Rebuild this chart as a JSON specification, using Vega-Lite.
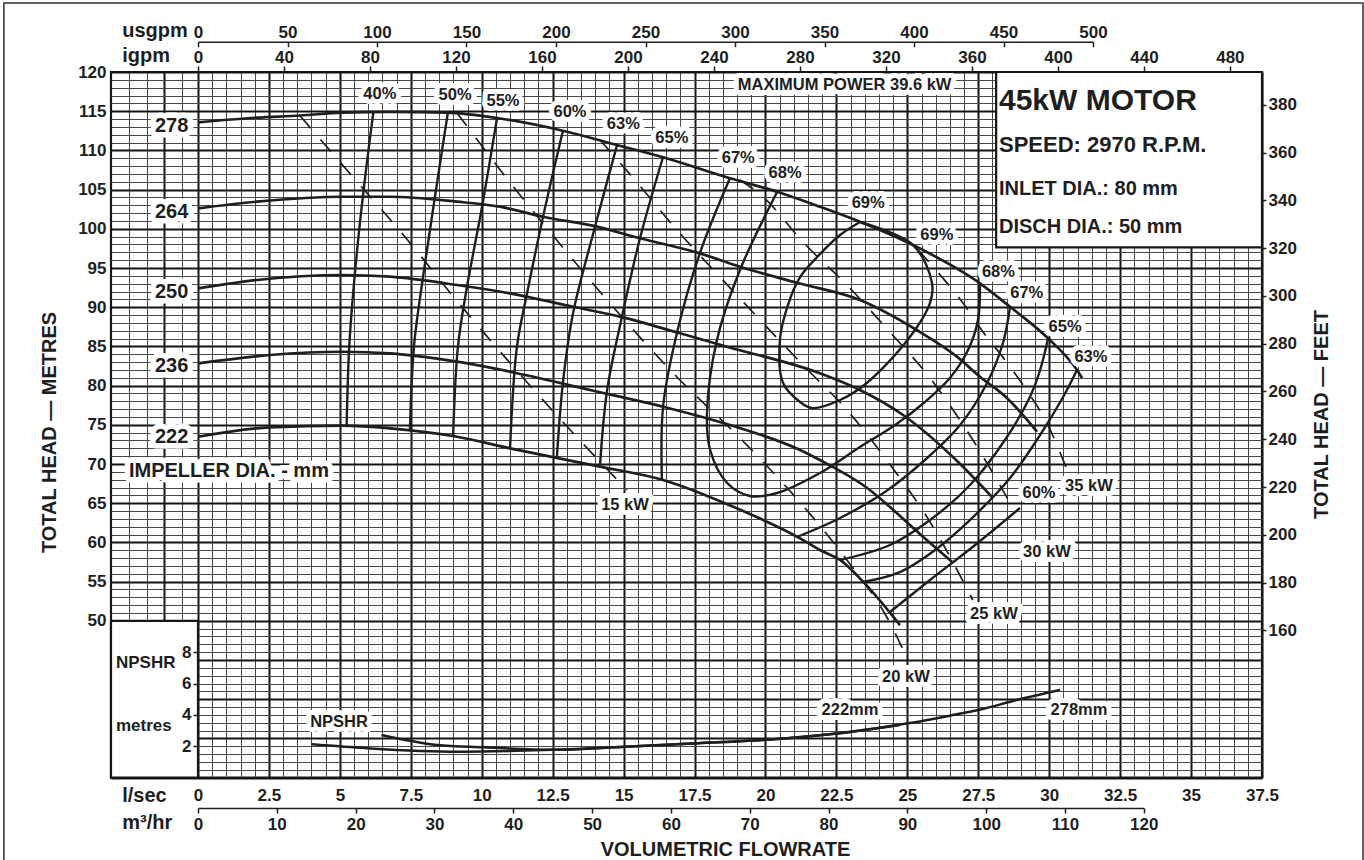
{
"$schema": "https://vega.github.io/schema/vega-lite/v6.json",
"width": 1151,
"height": 705.6,
"autosize": {"type": "none"},
"padding": {"left": 111, "top": 72, "right": 102, "bottom": 82.4},
"background": "white",
"config": {
 "view": {"stroke": "#161616", "strokeWidth": 2.2},
 "font": "Liberation Sans",
 "axis": {"labelFont": "Liberation Sans", "labelFontWeight": "bold", "labelColor": "#1e1e1e", "labelFontSize": 17, "titleFont": "Liberation Sans", "titleFontWeight": "bold", "titleColor": "#1e1e1e", "titleFontSize": 20, "tickColor": "#1e1e1e", "domainColor": "#1e1e1e", "labelFlush": false, "labelOverlap": false, "labelBound": false},
 "text": {"font": "Liberation Sans", "fontWeight": "bold", "fill": "#1e1e1e"}
},
"datasets": {
 "frame": [{"q1": -6.84, "q2": 41.06, "h1": 19.1, "h2": 128.8}],
 "boxes": [{"q1": -3.066, "q2": 0, "h1": 30, "h2": 50}, {"q1": 28.13, "q2": 37.5, "h1": 97.64, "h2": 120}],
 "heads": [
  {"d":"278","q":0,"h":113.58},{"d":"278","q":2.08,"h":114.17},{"d":"278","q":3.6,"h":114.45},{"d":"278","q":5.08,"h":114.83},{"d":"278","q":6.77,"h":114.92},{"d":"278","q":8.78,"h":114.83},{"d":"278","q":10.54,"h":114.13},{"d":"278","q":12.86,"h":112.51},{"d":"278","q":14.77,"h":110.69},{"d":"278","q":16.39,"h":109.12},{"d":"278","q":18.75,"h":106.44},{"d":"278","q":20.41,"h":104.73},{"d":"278","q":21.92,"h":102.82},{"d":"278","q":23.33,"h":100.91},{"d":"278","q":25.2,"h":97.93},{"d":"278","q":27.56,"h":93.05},{"d":"278","q":28.62,"h":90.06},{"d":"278","q":29.96,"h":86.03},{"d":"278","q":30.98,"h":81.99},{"d":"278","q":31.16,"h":80.97},
  {"d":"264","q":0,"h":102.61},{"d":"264","q":2.08,"h":103.46},{"d":"264","q":5.08,"h":104.09},{"d":"264","q":6.77,"h":104.09},{"d":"264","q":9.13,"h":103.46},{"d":"264","q":10.64,"h":102.82},{"d":"264","q":12.16,"h":101.54},{"d":"264","q":14.06,"h":100.27},{"d":"264","q":15.58,"h":98.79},{"d":"264","q":17.69,"h":96.87},{"d":"264","q":19.1,"h":95.17},{"d":"264","q":21.1,"h":93.12},{"d":"264","q":23.33,"h":90.92},{"d":"264","q":25.33,"h":87.09},{"d":"264","q":26.75,"h":83.69},{"d":"264","q":27.56,"h":81.13},{"d":"264","q":28.51,"h":78.42},{"d":"264","q":29.57,"h":74.12},
  {"d":"250","q":0,"h":92.41},{"d":"250","q":2.08,"h":93.47},{"d":"250","q":5.08,"h":94.11},{"d":"250","q":6.77,"h":93.89},{"d":"250","q":9.13,"h":92.83},{"d":"250","q":11.0,"h":91.77},{"d":"250","q":13.22,"h":90.06},{"d":"250","q":14.87,"h":88.79},{"d":"250","q":16.99,"h":86.67},{"d":"250","q":18.64,"h":84.96},{"d":"250","q":21.92,"h":81.57},{"d":"250","q":23.33,"h":79.44},{"d":"250","q":24.85,"h":76.25},{"d":"250","q":26.79,"h":70.26},{"d":"250","q":28.02,"h":65.66},
  {"d":"236","q":0,"h":82.84},{"d":"236","q":2.54,"h":83.9},{"d":"236","q":5.08,"h":84.32},{"d":"236","q":6.77,"h":84.12},{"d":"236","q":9.13,"h":83.05},{"d":"236","q":11.0,"h":81.77},{"d":"236","q":13.82,"h":79.44},{"d":"236","q":16.39,"h":77.31},{"d":"236","q":18.75,"h":74.97},{"d":"236","q":21.22,"h":71.79},{"d":"236","q":21.92,"h":70.51},{"d":"236","q":23.44,"h":67.32},{"d":"236","q":25.55,"h":60.73},{"d":"236","q":26.57,"h":57.54},
  {"d":"222","q":0,"h":73.48},{"d":"222","q":2.54,"h":74.68},{"d":"222","q":5.08,"h":74.89},{"d":"222","q":6.77,"h":74.55},{"d":"222","q":9.13,"h":73.48},{"d":"222","q":11.0,"h":72.0},{"d":"222","q":14.17,"h":69.66},{"d":"222","q":16.39,"h":67.96},{"d":"222","q":18.86,"h":64.55},{"d":"222","q":21.22,"h":60.52},{"d":"222","q":21.92,"h":59.03},{"d":"222","q":22.63,"h":57.76},{"d":"222","q":23.44,"h":54.99},{"d":"222","q":24.74,"h":49.46}
 ],
 "eff": [
  {"id":"40","o":1,"q":6.18,"h":114.86},{"id":"40","o":2,"q":5.83,"h":104.73},{"id":"40","o":3,"q":5.53,"h":94.32},{"id":"40","o":4,"q":5.33,"h":84.96},{"id":"40","o":5,"q":5.24,"h":74.97},
  {"id":"50","o":1,"q":8.81,"h":114.9},{"id":"50","o":2,"q":8.35,"h":104.06},{"id":"50","o":3,"q":7.93,"h":93.85},{"id":"50","o":4,"q":7.61,"h":84.92},{"id":"50","o":5,"q":7.47,"h":74.34},
  {"id":"55","o":1,"q":10.54,"h":114.13},{"id":"55","o":2,"q":10.01,"h":102.78},{"id":"55","o":3,"q":9.48,"h":92.58},{"id":"55","o":4,"q":9.16,"h":84.92},{"id":"55","o":5,"q":8.99,"h":73.44},
  {"id":"60","o":1,"q":12.86,"h":112.47},{"id":"60","o":2,"q":12.16,"h":101.51},{"id":"60","o":3,"q":11.6,"h":91.81},{"id":"60","o":4,"q":11.24,"h":84.92},{"id":"60","o":5,"q":11.0,"h":72.17},
  {"id":"63","o":1,"q":14.77,"h":110.69},{"id":"63","o":2,"q":13.99,"h":100.23},{"id":"63","o":3,"q":13.22,"h":89.26},{"id":"63","o":4,"q":12.86,"h":80.33},{"id":"63","o":5,"q":12.65,"h":70.89},
  {"id":"65","o":1,"q":16.39,"h":109.16},{"id":"65","o":2,"q":15.58,"h":98.83},{"id":"65","o":3,"q":14.94,"h":88.75},{"id":"65","o":4,"q":14.42,"h":79.44},{"id":"65","o":5,"q":14.17,"h":69.87},
  {"id":"67","o":1,"q":18.75,"h":106.48},{"id":"67","o":2,"q":17.69,"h":96.91},{"id":"67","o":3,"q":16.88,"h":86.71},{"id":"67","o":4,"q":16.39,"h":77.27},{"id":"67","o":5,"q":16.35,"h":67.96},
  {"id":"68","o":1,"q":20.41,"h":104.69},{"id":"68","o":2,"q":19.1,"h":94.74},{"id":"68","o":3,"q":18.29,"h":85.82},{"id":"68","o":4,"q":17.94,"h":76.51},{"id":"68","o":5,"q":18.05,"h":71.79},{"id":"68","o":6,"q":18.65,"h":67.58},{"id":"68","o":7,"q":19.45,"h":65.92},{"id":"68","o":8,"q":20.41,"h":66.3},{"id":"68","o":9,"q":21.92,"h":68.85},{"id":"68","o":10,"q":23.33,"h":72.17},{"id":"68","o":11,"q":24.57,"h":74.97},{"id":"68","o":12,"q":25.62,"h":77.91},{"id":"68","o":13,"q":26.5,"h":80.97},{"id":"68","o":14,"q":27.14,"h":84.54},{"id":"68","o":15,"q":27.49,"h":88.37},{"id":"68","o":16,"q":27.56,"h":93.09},
  {"id":"69","o":1,"q":23.33,"h":100.87},{"id":"69","o":2,"q":25.2,"h":97.93},{"id":"69","o":3,"q":25.87,"h":93.09},{"id":"69","o":4,"q":25.8,"h":90.54},{"id":"69","o":5,"q":25.09,"h":86.2},{"id":"69","o":6,"q":23.57,"h":80.33},{"id":"69","o":7,"q":22.63,"h":78.16},{"id":"69","o":8,"q":21.64,"h":77.14},{"id":"69","o":9,"q":21.22,"h":77.91},{"id":"69","o":10,"q":20.62,"h":80.33},{"id":"69","o":11,"q":20.51,"h":85.82},{"id":"69","o":12,"q":20.79,"h":90.28},{"id":"69","o":13,"q":21.22,"h":93.85},{"id":"69","o":14,"q":21.82,"h":96.4},{"id":"69","o":15,"q":22.63,"h":99.21},{"id":"69","o":16,"q":23.33,"h":100.87},
  {"id":"67r","o":1,"q":28.62,"h":90.06},{"id":"67r","o":2,"q":28.37,"h":85.43},{"id":"67r","o":3,"q":27.81,"h":80.33},{"id":"67r","o":4,"q":26.86,"h":74.97},{"id":"67r","o":5,"q":25.62,"h":70.51},{"id":"67r","o":6,"q":24.21,"h":66.43},{"id":"67r","o":7,"q":22.63,"h":63.11},{"id":"67r","o":8,"q":21.11,"h":60.69},
  {"id":"65r","o":1,"q":29.96,"h":86.03},{"id":"65r","o":2,"q":29.68,"h":81.99},{"id":"65r","o":3,"q":29.32,"h":78.55},{"id":"65r","o":4,"q":28.44,"h":73.06},{"id":"65r","o":5,"q":27.21,"h":67.32},{"id":"65r","o":6,"q":25.8,"h":62.86},{"id":"65r","o":7,"q":24.39,"h":59.67},{"id":"65r","o":8,"q":22.63,"h":57.76},
  {"id":"63r","o":1,"q":30.98,"h":81.99},{"id":"63r","o":2,"q":30.49,"h":78.55},{"id":"63r","o":3,"q":29.68,"h":73.7},{"id":"63r","o":4,"q":28.62,"h":68.21},{"id":"63r","o":5,"q":27.39,"h":63.49},{"id":"63r","o":6,"q":25.98,"h":59.03},{"id":"63r","o":7,"q":24.74,"h":56.22},{"id":"63r","o":8,"q":23.44,"h":54.95},
  {"id":"60r","o":1,"q":24.39,"h":51.12},{"id":"60r","o":2,"q":25.8,"h":55.2},{"id":"60r","o":3,"q":27.39,"h":59.67},{"id":"60r","o":4,"q":28.97,"h":64.39}
 ],
 "power": [
  {"p":"15","q":3.6,"h":114.39},{"p":"15","q":5.46,"h":106.61},{"p":"15","q":7.3,"h":98.95},{"p":"15","q":9.16,"h":90.66},{"p":"15","q":11.0,"h":82.88},{"p":"15","q":12.86,"h":75.36},{"p":"15","q":15.12,"h":66.68},
  {"p":"20","q":9.13,"h":114.77},{"p":"20","q":10.93,"h":106.22},{"p":"20","q":12.41,"h":99.59},{"p":"20","q":14.63,"h":90.03},{"p":"20","q":16.88,"h":81.1},{"p":"20","q":19.17,"h":73.06},{"p":"20","q":21.39,"h":64.39},{"p":"20","q":22.87,"h":57.76},{"p":"20","q":24.39,"h":49.72},{"p":"20","q":25.02,"h":45.0},
  {"p":"25","q":14.17,"h":111.33},{"p":"25","q":15.4,"h":106.22},{"p":"25","q":16.88,"h":99.85},{"p":"25","q":18.4,"h":93.85},{"p":"25","q":19.88,"h":88.11},{"p":"25","q":21.39,"h":82.37},{"p":"25","q":22.87,"h":76.89},{"p":"25","q":24.32,"h":70.26},{"p":"25","q":25.8,"h":62.6},{"p":"25","q":27.31,"h":52.65},
  {"p":"30","q":19.1,"h":106.22},{"p":"30","q":19.92,"h":104.06},{"p":"30","q":21.32,"h":98.32},{"p":"30","q":22.87,"h":92.83},{"p":"30","q":24.32,"h":87.09},{"p":"30","q":25.8,"h":80.97},{"p":"30","q":27.31,"h":73.06},{"p":"30","q":28.8,"h":63.88},
  {"p":"35","q":25.38,"h":97.3},{"p":"35","q":26.22,"h":93.85},{"p":"35","q":26.96,"h":90.54},{"p":"35","q":27.67,"h":86.84},{"p":"35","q":28.44,"h":83.27},{"p":"35","q":29.15,"h":79.69},{"p":"35","q":29.92,"h":75.23},{"p":"35","q":30.66,"h":68.98}
 ],
 "npshr": [
  {"d":"222mm","q":4.01,"n":2.12},{"d":"222mm","q":5.95,"n":1.87},{"d":"222mm","q":7.82,"n":1.7},{"d":"222mm","q":9.11,"n":1.65},{"d":"222mm","q":10.5,"n":1.68},{"d":"222mm","q":12.48,"n":1.77},{"d":"222mm","q":15.05,"n":1.97},{"d":"222mm","q":17.61,"n":2.19},{"d":"222mm","q":19.9,"n":2.4},{"d":"222mm","q":22.6,"n":2.83},{"d":"222mm","q":24.74,"n":3.36},
  {"d":"278mm","q":6.47,"n":2.72},{"d":"278mm","q":8.44,"n":2.08},{"d":"278mm","q":10.06,"n":1.93},{"d":"278mm","q":12.48,"n":1.77},{"d":"278mm","q":15.05,"n":1.97},{"d":"278mm","q":17.61,"n":2.19},{"d":"278mm","q":19.9,"n":2.4},{"d":"278mm","q":22.6,"n":2.83},{"d":"278mm","q":25.03,"n":3.46},{"d":"278mm","q":26.5,"n":3.95},{"d":"278mm","q":27.62,"n":4.36},{"d":"278mm","q":28.85,"n":4.95},{"d":"278mm","q":30.38,"n":5.59}
 ],
 "labs": [
  {"t":"40%","g":"p","q":6.41,"h":117.23},{"t":"50%","g":"p","q":9.06,"h":117.07},{"t":"55%","g":"p","q":10.75,"h":116.33},{"t":"60%","g":"p","q":13.11,"h":114.94},{"t":"63%","g":"p","q":14.99,"h":113.37},{"t":"65%","g":"p","q":16.7,"h":111.54},{"t":"67%","g":"p","q":19.04,"h":108.99},{"t":"68%","g":"p","q":20.69,"h":107.08},{"t":"69%","g":"p","q":23.62,"h":103.25},{"t":"69%","g":"p","q":26.04,"h":99.21},{"t":"68%","g":"p","q":28.21,"h":94.53},{"t":"67%","g":"p","q":29.21,"h":91.77},{"t":"65%","g":"p","q":30.56,"h":87.51},{"t":"63%","g":"p","q":31.47,"h":83.69},{"t":"60%","g":"p","q":29.64,"h":66.26},
  {"t":"35 kW","g":"p","q":31.4,"h":67.19},{"t":"30 kW","g":"p","q":29.92,"h":58.78},{"t":"25 kW","g":"p","q":28.05,"h":50.87},{"t":"20 kW","g":"p","q":24.95,"h":42.83},{"t":"15 kW","g":"p","q":15.05,"h":64.77},{"t":"MAXIMUM POWER 39.6 kW","g":"p","q":22.79,"h":118.3},
  {"t":"278","g":"d","q":-0.93,"h":113.15},{"t":"264","g":"d","q":-0.93,"h":102.14},{"t":"250","g":"d","q":-0.93,"h":91.94},{"t":"236","g":"d","q":-0.93,"h":82.5},{"t":"222","g":"d","q":-0.93,"h":73.44},{"t":"IMPELLER DIA. - mm","g":"d","q":1.09,"h":69.13},
  {"t":"45kW MOTOR","g":"b1","q":28.23,"h":115.15},{"t":"SPEED: 2970 R.P.M.","g":"b2","q":28.23,"h":109.83},{"t":"INLET DIA.: 80 mm","g":"b3","q":28.23,"h":104.31},{"t":"DISCH DIA.: 50 mm","g":"b3","q":28.23,"h":99.46}
 ],
 "nlabs": [
  {"t":"NPSHR","g":"c","q":4.97,"n":3.57},{"t":"222mm","g":"c","q":22.98,"n":4.31},{"t":"278mm","g":"c","q":31.05,"n":4.31},
  {"t":"NPSHR","g":"b","q":-2.89,"n":7.34},{"t":"metres","g":"b","q":-2.89,"n":3.32}
 ],
 "feet": [{"ft":160},{"ft":380}],
 "usg": [{"u":0},{"u":500}],
 "igp": [{"g":0},{"g":480}],
 "m3": [{"m":0},{"m":120}]
},
"resolve": {"scale": {"x": "independent", "y": "independent"}},
"layer": [
 {"data": {"name": "frame"}, "mark": {"type": "rect", "filled": false, "stroke": "#333", "strokeWidth": 1.5},
  "encoding": {"x": {"field": "q1", "type": "quantitative", "scale": {"domain": [-3.066, 37.5], "nice": false, "zero": false}, "axis": null}, "x2": {"field": "q2"},
   "y": {"field": "h1", "type": "quantitative", "scale": {"domain": [30, 120], "nice": false, "zero": false}, "axis": null}, "y2": {"field": "h2"}}},
 {"data": {"name": "heads"}, "mark": {"type": "line", "stroke": "#1e1e1e", "strokeWidth": 2.7, "interpolate": "monotone"},
  "encoding": {
   "x": {"field": "q", "type": "quantitative", "scale": {"domain": [-3.066, 37.5], "nice": false, "zero": false},
    "axis": {"orient": "bottom", "values": [-2.432,-1.797,-1.198,-0.564,0,0.5,1,1.5,2,2.5,3,3.5,4,4.5,5,5.5,6,6.5,7,7.5,8,8.5,9,9.5,10,10.5,11,11.5,12,12.5,13,13.5,14,14.5,15,15.5,16,16.5,17,17.5,18,18.5,19,19.5,20,20.5,21,21.5,22,22.5,23,23.5,24,24.5,25,25.5,26,26.5,27,27.5,28,28.5,29,29.5,30,30.5,31,31.5,32,32.5,33,33.5,34,34.5,35,35.5,36,36.5,37,37.5],
     "grid": true,
     "gridColor": {"condition": {"test": "datum.value % 2.5 === 0 || datum.value === -1.198", "value": "#141414"}, "value": "#474747"},
     "gridWidth": {"condition": {"test": "datum.value % 2.5 === 0 || datum.value === -1.198", "value": 2}, "value": 1},
     "ticks": false, "domain": false, "labelPadding": 10,
     "labelExpr": "datum.value >= 0 && datum.value % 2.5 === 0 ? '' + datum.value : ''",
     "title": "l/sec", "titleX": 10.7, "titleY": 23.4, "titleAlign": "left", "titleBaseline": "alphabetic"}},
   "y": {"field": "h", "type": "quantitative", "scale": {"domain": [30, 120], "nice": false, "zero": false},
    "axis": {"orient": "left", "values": [30,31,32,33,34,35,36,37,38,39,40,41,42,43,44,45,46,47,48,49,50,51,52,53,54,55,56,57,58,59,60,61,62,63,64,65,66,67,68,69,70,71,72,73,74,75,76,77,78,79,80,81,82,83,84,85,86,87,88,89,90,91,92,93,94,95,96,97,98,99,100,101,102,103,104,105,106,107,108,109,110,111,112,113,114,115,116,117,118,119,120],
     "grid": true,
     "gridColor": {"condition": {"test": "datum.value % 5 === 0", "value": "#141414"}, "value": "#474747"},
     "gridWidth": {"condition": {"test": "datum.value % 5 === 0", "value": 2}, "value": 1},
     "ticks": false, "domain": false, "labelPadding": 5,
     "labelExpr": "datum.value >= 50 && datum.value % 5 === 0 ? '' + datum.value : ''",
     "title": "TOTAL HEAD — METRES", "titleAngle": 270, "titleX": -56, "titleY": 360, "titleAlign": "center", "titleBaseline": "alphabetic"}},
   "detail": {"field": "d"}}},
 {"data": {"name": "boxes"}, "mark": {"type": "rect", "fill": "white", "stroke": "#161616", "strokeWidth": 2.2},
  "encoding": {"x": {"field": "q1", "type": "quantitative", "scale": {"domain": [-3.066, 37.5], "nice": false, "zero": false}, "axis": null}, "x2": {"field": "q2"},
   "y": {"field": "h1", "type": "quantitative", "scale": {"domain": [30, 120], "nice": false, "zero": false}, "axis": null}, "y2": {"field": "h2"}}},
 {"data": {"name": "eff"}, "mark": {"type": "line", "stroke": "#1e1e1e", "strokeWidth": 2.4, "interpolate": "catmull-rom"},
  "encoding": {"x": {"field": "q", "type": "quantitative", "scale": {"domain": [-3.066, 37.5], "nice": false, "zero": false}, "axis": null},
   "y": {"field": "h", "type": "quantitative", "scale": {"domain": [30, 120], "nice": false, "zero": false}, "axis": null},
   "detail": {"field": "id"}, "order": {"field": "o", "type": "quantitative"}}},
 {"data": {"name": "power"}, "mark": {"type": "line", "stroke": "#1e1e1e", "strokeWidth": 1.7, "strokeDash": [16, 15], "interpolate": "monotone"},
  "encoding": {"x": {"field": "q", "type": "quantitative", "scale": {"domain": [-3.066, 37.5], "nice": false, "zero": false}, "axis": null},
   "y": {"field": "h", "type": "quantitative", "scale": {"domain": [30, 120], "nice": false, "zero": false}, "axis": null},
   "detail": {"field": "p"}}},
 {"data": {"name": "labs"}, "transform": [{"filter": "datum.g === 'p'"}],
  "mark": {"type": "text", "fontSize": 16.5, "align": "center", "baseline": "middle", "fill": "white", "stroke": "white", "strokeWidth": 10, "strokeJoin": "round"},
  "encoding": {"x": {"field": "q", "type": "quantitative", "scale": {"domain": [-3.066, 37.5], "nice": false, "zero": false}, "axis": null},
   "y": {"field": "h", "type": "quantitative", "scale": {"domain": [30, 120], "nice": false, "zero": false}, "axis": null}, "text": {"field": "t"}}},
 {"data": {"name": "labs"}, "transform": [{"filter": "datum.g === 'p'"}],
  "mark": {"type": "text", "fontSize": 16.5, "align": "center", "baseline": "middle"},
  "encoding": {"x": {"field": "q", "type": "quantitative", "scale": {"domain": [-3.066, 37.5], "nice": false, "zero": false}, "axis": null},
   "y": {"field": "h", "type": "quantitative", "scale": {"domain": [30, 120], "nice": false, "zero": false}, "axis": null}, "text": {"field": "t"}}},
 {"data": {"name": "labs"}, "transform": [{"filter": "datum.g === 'd'"}],
  "mark": {"type": "text", "fontSize": 20, "align": "center", "baseline": "middle", "fill": "white", "stroke": "white", "strokeWidth": 11, "strokeJoin": "round"},
  "encoding": {"x": {"field": "q", "type": "quantitative", "scale": {"domain": [-3.066, 37.5], "nice": false, "zero": false}, "axis": null},
   "y": {"field": "h", "type": "quantitative", "scale": {"domain": [30, 120], "nice": false, "zero": false}, "axis": null}, "text": {"field": "t"}}},
 {"data": {"name": "labs"}, "transform": [{"filter": "datum.g === 'd'"}],
  "mark": {"type": "text", "fontSize": 20, "align": "center", "baseline": "middle"},
  "encoding": {"x": {"field": "q", "type": "quantitative", "scale": {"domain": [-3.066, 37.5], "nice": false, "zero": false}, "axis": null},
   "y": {"field": "h", "type": "quantitative", "scale": {"domain": [30, 120], "nice": false, "zero": false}, "axis": null}, "text": {"field": "t"}}},
 {"data": {"name": "labs"}, "transform": [{"filter": "datum.g === 'b1'"}],
  "mark": {"type": "text", "fontSize": 30, "align": "left", "baseline": "alphabetic"},
  "encoding": {"x": {"field": "q", "type": "quantitative", "scale": {"domain": [-3.066, 37.5], "nice": false, "zero": false}, "axis": null},
   "y": {"field": "h", "type": "quantitative", "scale": {"domain": [30, 120], "nice": false, "zero": false}, "axis": null}, "text": {"field": "t"}}},
 {"data": {"name": "labs"}, "transform": [{"filter": "datum.g === 'b2'"}],
  "mark": {"type": "text", "fontSize": 22, "align": "left", "baseline": "alphabetic"},
  "encoding": {"x": {"field": "q", "type": "quantitative", "scale": {"domain": [-3.066, 37.5], "nice": false, "zero": false}, "axis": null},
   "y": {"field": "h", "type": "quantitative", "scale": {"domain": [30, 120], "nice": false, "zero": false}, "axis": null}, "text": {"field": "t"}}},
 {"data": {"name": "labs"}, "transform": [{"filter": "datum.g === 'b3'"}],
  "mark": {"type": "text", "fontSize": 20, "align": "left", "baseline": "alphabetic"},
  "encoding": {"x": {"field": "q", "type": "quantitative", "scale": {"domain": [-3.066, 37.5], "nice": false, "zero": false}, "axis": null},
   "y": {"field": "h", "type": "quantitative", "scale": {"domain": [30, 120], "nice": false, "zero": false}, "axis": null}, "text": {"field": "t"}}},
 {"data": {"name": "npshr"}, "mark": {"type": "line", "stroke": "#1e1e1e", "strokeWidth": 2.5, "interpolate": "monotone"},
  "encoding": {"x": {"field": "q", "type": "quantitative", "scale": {"domain": [-3.066, 37.5], "nice": false, "zero": false}, "axis": null},
   "y": {"field": "n", "type": "quantitative", "scale": {"domain": [0, 45], "nice": false, "zero": false},
    "axis": {"orient": "left", "offset": -87, "values": [2, 4, 6, 8], "grid": false, "domain": false, "ticks": true, "tickSize": 5, "tickWidth": 1.5, "labelPadding": 2, "title": null, "zindex": 2}},
   "detail": {"field": "d"}}},
 {"data": {"name": "nlabs"}, "transform": [{"filter": "datum.g === 'c'"}],
  "mark": {"type": "text", "fontSize": 16.5, "align": "center", "baseline": "middle", "fill": "white", "stroke": "white", "strokeWidth": 10, "strokeJoin": "round"},
  "encoding": {"x": {"field": "q", "type": "quantitative", "scale": {"domain": [-3.066, 37.5], "nice": false, "zero": false}, "axis": null},
   "y": {"field": "n", "type": "quantitative", "scale": {"domain": [0, 45], "nice": false, "zero": false}, "axis": null}, "text": {"field": "t"}}},
 {"data": {"name": "nlabs"}, "transform": [{"filter": "datum.g === 'c'"}],
  "mark": {"type": "text", "fontSize": 16.5, "align": "center", "baseline": "middle"},
  "encoding": {"x": {"field": "q", "type": "quantitative", "scale": {"domain": [-3.066, 37.5], "nice": false, "zero": false}, "axis": null},
   "y": {"field": "n", "type": "quantitative", "scale": {"domain": [0, 45], "nice": false, "zero": false}, "axis": null}, "text": {"field": "t"}}},
 {"data": {"name": "nlabs"}, "transform": [{"filter": "datum.g === 'b'"}],
  "mark": {"type": "text", "fontSize": 17, "align": "left", "baseline": "middle"},
  "encoding": {"x": {"field": "q", "type": "quantitative", "scale": {"domain": [-3.066, 37.5], "nice": false, "zero": false}, "axis": null},
   "y": {"field": "n", "type": "quantitative", "scale": {"domain": [0, 45], "nice": false, "zero": false}, "axis": null}, "text": {"field": "t"}}},
 {"data": {"name": "feet"}, "mark": {"type": "point", "opacity": 0},
  "encoding": {"y": {"field": "ft", "type": "quantitative", "scale": {"domain": [98.425, 393.701], "nice": false, "zero": false},
   "axis": {"orient": "right", "values": [160,180,200,220,240,260,280,300,320,340,360,380], "grid": false, "domain": false, "tickSize": 4, "tickWidth": 1.5, "labelPadding": 2,
    "title": "TOTAL HEAD — FEET", "titleAngle": 270, "titleX": 65, "titleY": 342, "titleAlign": "center", "titleBaseline": "alphabetic"}}}},
 {"data": {"name": "usg"}, "mark": {"type": "point", "opacity": 0},
  "encoding": {"x": {"field": "u", "type": "quantitative", "scale": {"domain": [0, 500], "range": [87, 982], "nice": false, "zero": false},
   "axis": {"orient": "top", "offset": 30.3, "values": [0,50,100,150,200,250,300,350,400,450,500], "grid": false, "domain": true, "domainWidth": 1.6, "tickSize": -5, "tickWidth": 1.5, "labelPadding": 5,
    "title": "usgpm", "titleX": 10.7, "titleY": -5, "titleAlign": "left", "titleBaseline": "alphabetic"}}}},
 {"data": {"name": "igp"}, "mark": {"type": "point", "opacity": 0},
  "encoding": {"x": {"field": "g", "type": "quantitative", "scale": {"domain": [0, 480], "range": [87, 1118.9], "nice": false, "zero": false},
   "axis": {"orient": "top", "offset": 0, "values": [0,40,80,120,160,200,240,280,320,360,400,440,480], "grid": false, "domain": false, "tickSize": 6, "tickWidth": 1.5, "labelPadding": 0,
    "title": "igpm", "titleX": 10.7, "titleY": -10.3, "titleAlign": "left", "titleBaseline": "alphabetic"}}}},
 {"data": {"name": "m3"}, "mark": {"type": "point", "opacity": 0},
  "encoding": {"x": {"field": "m", "type": "quantitative", "scale": {"domain": [0, 120], "range": [87, 1032.8], "nice": false, "zero": false},
   "axis": {"orient": "bottom", "offset": 30.4, "values": [0,10,20,30,40,50,60,70,80,90,100,110,120], "grid": false, "domain": true, "domainWidth": 1.6, "tickSize": 5, "tickWidth": 1.5, "labelPadding": 3,
    "title": "m³/hr", "titleX": 10.7, "titleY": 20.3, "titleAlign": "left", "titleBaseline": "alphabetic"}}}},
 {"data": {"name": "m3"}, "mark": {"type": "point", "opacity": 0},
  "encoding": {"x": {"field": "m", "type": "quantitative", "scale": {"domain": [0, 120], "nice": false, "zero": false},
   "axis": {"orient": "bottom", "labels": false, "ticks": false, "domain": false, "grid": false,
    "title": "VOLUMETRIC FLOWRATE", "titleX": 614, "titleY": 77.4, "titleAlign": "center", "titleBaseline": "alphabetic"}}}}
]
}
